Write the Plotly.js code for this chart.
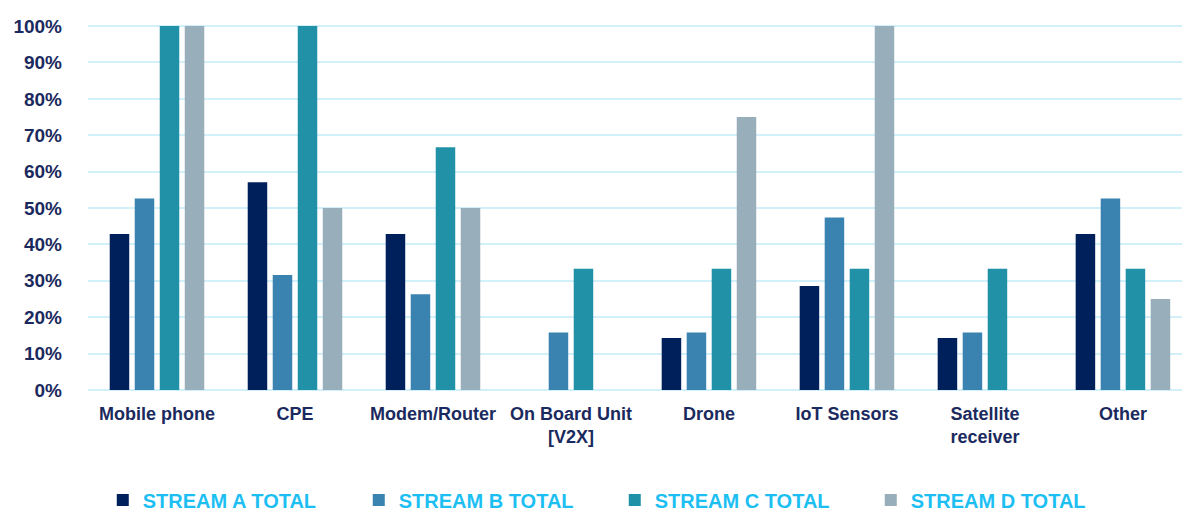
<!DOCTYPE html>
<html>
<head>
<meta charset="utf-8">
<script src="https://cdn.plot.ly/plotly-3.0.1.min.js"></script>
<style>html,body{margin:0;padding:0;background:#fff;}#chart{width:1182px;height:513px;}</style>
</head>
<body>
<div id="chart"></div>
<script>
const categories = ["Mobile phone", "CPE", "Modem/Router", "On Board Unit<br>[V2X]", "Drone", "IoT Sensors", "Satellite<br>receiver", "Other"];
const seriesNames = ["STREAM A TOTAL", "STREAM B TOTAL", "STREAM C TOTAL", "STREAM D TOTAL"];
const streamA = [0.429, 0.571, 0.429, 0, 0.143, 0.286, 0.143, 0.429];
const streamB = [0.526, 0.316, 0.263, 0.158, 0.158, 0.474, 0.158, 0.526];
const streamC = [1.0, 1.0, 0.667, 0.333, 0.333, 0.333, 0.333, 0.333];
const streamD = [1.0, 0.5, 0.5, 0, 0.75, 1.0, 0, 0.25];
const colors = ["#00205C", "#3A83B0", "#2191A8", "#98AEBA"];

const seriesValues = [streamA, streamB, streamC, streamD];
const traces = seriesValues.map((vals, i) => ({
  type: "bar",
  name: seriesNames[i],
  x: categories,
  y: vals,
  marker: {color: colors[i]},
  hoverinfo: "x+y"
}));

const font = "Liberation Sans, Arial, sans-serif";
const layout = {
  width: 1182, height: 513,
  margin: {l: 88, r: 0, t: 25, b: 123, autoexpand: false},
  paper_bgcolor: "#fff", plot_bgcolor: "#fff",
  barmode: "group",
  bargap: 0.275,
  bargroupgap: 0.22,
  showlegend: true,
  xaxis: {
    type: "category",
    range: [-0.5, 7.428],
    showgrid: false, zeroline: false, showline: false,
    ticks: "",
    tickfont: {family: font, size: 18, color: "#1B2A5E", weight: "bold"},
    ticklabelstandoff: 11
  },
  yaxis: {
    range: [0, 1.003],
    dtick: 0.1,
    tickformat: ".0%",
    gridcolor: "#D2F0FA", gridwidth: 2,
    zeroline: true, zerolinecolor: "#D2F0FA", zerolinewidth: 2,
    showline: false, ticks: "",
    tickfont: {family: font, size: 19, color: "#1B2A5E", weight: "bold"},
    ticklabelstandoff: 25
  },
  legend: {
    orientation: "h",
    x: 0.0135, xanchor: "left",
    y: -0.355, yanchor: "bottom",
    entrywidth: 211, entrywidthmode: "pixels",
    itemwidth: 30,
    font: {family: font, size: 20, color: "#1DBFF3", weight: "bold"},
    traceorder: "normal"
  }
};

Plotly.newPlot("chart", traces, layout, {displayModeBar: false, staticPlot: true});
</script>
</body>
</html>
